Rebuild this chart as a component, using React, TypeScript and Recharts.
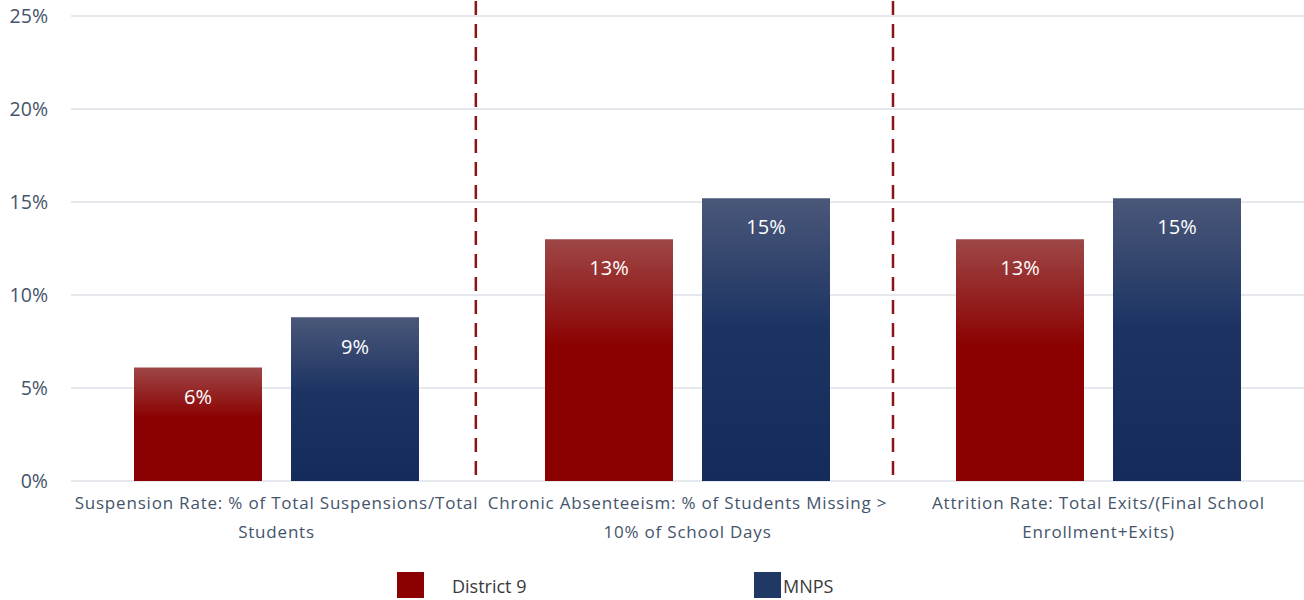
import React from 'react';
import { BarChart, Bar, XAxis, YAxis, CartesianGrid, Legend, LabelList, ReferenceLine } from 'recharts';

// category labels (line breaks as in the original)
const categories = [
  'Suspension Rate: % of Total Suspensions/Total\nStudents',
  'Chronic Absenteeism: % of Students Missing >\n10% of School Days',
  'Attrition Rate: Total Exits/(Final School\nEnrollment+Exits)',
];
const district9 = [6.1, 13.0, 13.0];
const mnps = [8.8, 15.2, 15.2];
const yTicks = [0, 5, 10, 15, 20, 25];
// category centres on a 0..3 scale, and the dashed separators on it
const slots = [0.5, 1.5, 2.5];
const dividers = [0.985, 2.0];

const data = categories.map((name, i) => ({ name, district9: district9[i], mnps: mnps[i], slot: slots[i] }));

const FONT = '"Open Sans", sans-serif';
const TEXT = '#44546A';
const RED = '#8B0000';
const BLUE = '#1F3864';

const CategoryTick: React.FC<any> = ({ x, y, payload }) => {
  const lines = String(payload.value).split('\n');
  return (
    <text x={x} y={y} textAnchor="middle" fill={TEXT} fontSize={17} letterSpacing={0.8} fontFamily={FONT}>
      {lines.map((l, i) => (
        <tspan key={i} x={x} dy={i === 0 ? 28 : 29}>{l}</tspan>
      ))}
    </text>
  );
};

const LegendBox: React.FC<any> = () => (
  <div style={{ position: 'relative', width: 1304, height: 40, fontFamily: FONT, fontSize: 18, color: '#3a3a3a' }}>
    <div style={{ position: 'absolute', left: 397, top: 6, width: 27, height: 26, background: RED }} />
    <div style={{ position: 'absolute', left: 452, top: 7, lineHeight: '26px' }}>District 9</div>
    <div style={{ position: 'absolute', left: 754, top: 6, width: 27, height: 26, background: BLUE }} />
    <div style={{ position: 'absolute', left: 783, top: 7, lineHeight: '26px' }}>MNPS</div>
  </div>
);

const DashedDivider: React.FC<any> = (p) => {
  const top = Math.min(p.y1, p.y2);
  const bottom = Math.max(p.y1, p.y2);
  return (
    <line x1={p.x1} x2={p.x2} y1={top - 15} y2={bottom + 3} stroke="#8B1414" strokeWidth={2.5} strokeDasharray="14 9" />
  );
};

export default function App() {
  return (
    <div style={{ position: 'absolute', left: 0, top: 0, background: '#fff' }}>
      <BarChart width={1304} height={600} data={data} margin={{ top: 16, right: 0, left: 0, bottom: 19 }}
        barCategoryGap={63} barGap={29}>
        <defs>
          <linearGradient id="gradRed" x1="0" y1="0" x2="0" y2="1">
            <stop offset="0%" stopColor="#9E4747" />
            <stop offset="45%" stopColor="#8B0000" />
            <stop offset="100%" stopColor="#8B0000" />
          </linearGradient>
          <linearGradient id="gradBlue" x1="0" y1="0" x2="0" y2="1">
            <stop offset="0%" stopColor="#4A5779" />
            <stop offset="45%" stopColor="#1D3463" />
            <stop offset="100%" stopColor="#152B5B" />
          </linearGradient>
        </defs>
        <CartesianGrid vertical={false} stroke="#DCE0E7" strokeWidth={1.5} />
        <XAxis xAxisId="cat" dataKey="name" axisLine={false} tickLine={false} tickSize={0} tickMargin={0}
          height={60} interval={0} tick={<CategoryTick />} />
        <XAxis xAxisId="div" dataKey="slot" type="number" domain={[0, 3]} hide allowDataOverflow />
        <YAxis domain={[0, 25]} ticks={yTicks} axisLine={false} tickLine={false} tickSize={0} tickMargin={23}
          width={71} tickFormatter={(v) => `${v}%`}
          tick={{ fill: TEXT, fontSize: 19.5, fontFamily: FONT }} />
        {dividers.map((d) => (
          <ReferenceLine key={d} xAxisId="div" x={d} shape={<DashedDivider />} />
        ))}
        <Legend verticalAlign="bottom" content={<LegendBox />} wrapperStyle={{ left: 0, top: 566, width: 1304, height: 40 }} />
        <Bar xAxisId="cat" dataKey="district9" name="District 9" fill="url(#gradRed)" isAnimationActive={false}>
          <LabelList dataKey="district9" position="insideTop" offset={22} fill="#fff" fontSize={20} fontFamily={FONT}
            formatter={(v: any) => `${Math.round(v)}%`} />
        </Bar>
        <Bar xAxisId="cat" dataKey="mnps" name="MNPS" fill="url(#gradBlue)" isAnimationActive={false}>
          <LabelList dataKey="mnps" position="insideTop" offset={22} fill="#fff" fontSize={20} fontFamily={FONT}
            formatter={(v: any) => `${Math.round(v)}%`} />
        </Bar>
      </BarChart>
    </div>
  );
}
